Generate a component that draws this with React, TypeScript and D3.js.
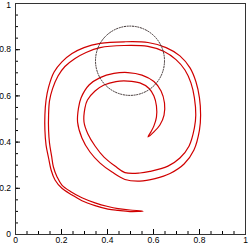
import React, { useEffect, useRef } from "react";
import * as d3 from "d3";

const width = 249;
const height = 244;
const margin = { left: 15, top: 3, right: 4, bottom: 10 };

// outer edge of the stretched interface, from the tail tip to the hook tip
const outerX = [0.557, 0.5, 0.448, 0.404, 0.348, 0.291, 0.248, 0.204, 0.174, 0.157, 0.146, 0.135, 0.13, 0.13, 0.135, 0.146, 0.17, 0.204, 0.248, 0.3, 0.37, 0.474, 0.578, 0.657, 0.717, 0.761, 0.787, 0.802, 0.807, 0.802, 0.778, 0.735, 0.674, 0.609, 0.543, 0.478, 0.422, 0.37, 0.326, 0.291, 0.272, 0.276, 0.287, 0.322, 0.37, 0.43, 0.491, 0.552, 0.604, 0.635, 0.65, 0.648, 0.63, 0.604, 0.578];
const outerY = [0.099, 0.097, 0.102, 0.108, 0.123, 0.144, 0.169, 0.198, 0.234, 0.277, 0.329, 0.385, 0.45, 0.515, 0.58, 0.636, 0.701, 0.745, 0.781, 0.807, 0.825, 0.832, 0.829, 0.807, 0.771, 0.719, 0.658, 0.589, 0.515, 0.45, 0.364, 0.303, 0.262, 0.24, 0.229, 0.236, 0.268, 0.307, 0.355, 0.416, 0.485, 0.545, 0.589, 0.645, 0.677, 0.695, 0.699, 0.688, 0.66, 0.619, 0.567, 0.515, 0.472, 0.442, 0.42];

// inner edge, same direction, without the two tips
const innerX = [0.5, 0.448, 0.404, 0.348, 0.291, 0.243, 0.204, 0.183, 0.167, 0.159, 0.15, 0.146, 0.146, 0.15, 0.163, 0.187, 0.217, 0.261, 0.309, 0.37, 0.474, 0.578, 0.648, 0.7, 0.739, 0.765, 0.78, 0.786, 0.78, 0.757, 0.717, 0.665, 0.587, 0.543, 0.478, 0.435, 0.387, 0.348, 0.317, 0.3, 0.304, 0.315, 0.348, 0.387, 0.439, 0.491, 0.543, 0.583, 0.604, 0.615, 0.615, 0.604, 0.591];
const innerY = [0.104, 0.11, 0.119, 0.135, 0.157, 0.183, 0.212, 0.247, 0.29, 0.338, 0.394, 0.45, 0.515, 0.576, 0.628, 0.684, 0.725, 0.76, 0.786, 0.807, 0.816, 0.812, 0.79, 0.755, 0.71, 0.654, 0.589, 0.515, 0.459, 0.381, 0.329, 0.294, 0.271, 0.264, 0.266, 0.294, 0.333, 0.381, 0.433, 0.485, 0.545, 0.58, 0.619, 0.645, 0.66, 0.662, 0.654, 0.63, 0.597, 0.554, 0.506, 0.468, 0.442];

// initial circle
const circleCenter = [0.5, 0.75];
const circleRadius = 0.15;

const majorTicks = [0, 0.2, 0.4, 0.6, 0.8, 1];
const minorTicks = d3.range(0, 21).map(i => i * 0.05);

const x = d3.scaleLinear().domain([0, 1]).range([margin.left, width - margin.right]);
const y = d3.scaleLinear().domain([0, 1]).range([height - margin.bottom, margin.top]);

export default function App() {
  const xAxisRef = useRef<SVGGElement>(null);
  const yAxisRef = useRef<SVGGElement>(null);
  const xMinorRef = useRef<SVGGElement>(null);
  const yMinorRef = useRef<SVGGElement>(null);

  useEffect(() => {
    const fmt = d3.format("~g");
    const style = (g: any) => {
      g.select(".domain").remove();
      g.selectAll("line").attr("stroke", "#000");
      g.selectAll("text")
        .attr("fill", "#000")
        .style("font-family", "'Liberation Sans', Arial, sans-serif")
        .style("font-size", "8.5px");
    };
    d3.select(xAxisRef.current!)
      .call(d3.axisBottom(x).tickValues(majorTicks).tickSize(-5).tickPadding(3).tickFormat(fmt as any))
      .call(style);
    d3.select(yAxisRef.current!)
      .call(d3.axisLeft(y).tickValues(majorTicks).tickSize(-5).tickPadding(4).tickFormat(fmt as any))
      .call(style)
      // keep the top label inside the window
      .selectAll("text")
      .filter((d: any) => d === 1)
      .attr("dy", "0.55em");
    d3.select(xMinorRef.current!)
      .call(d3.axisBottom(x).tickValues(minorTicks).tickSize(-3).tickFormat(() => ""))
      .call(style);
    d3.select(yMinorRef.current!)
      .call(d3.axisLeft(y).tickValues(minorTicks).tickSize(-3).tickFormat(() => ""))
      .call(style);
  }, []);

  const pts: [number, number][] = [];
  outerX.forEach((v, i) => pts.push([x(v), y(outerY[i])]));
  for (let i = innerX.length - 1; i >= 0; i--) pts.push([x(innerX[i]), y(innerY[i])]);
  const path = d3.line().curve(d3.curveCatmullRomClosed.alpha(0.5))(pts) || "";

  return (
    <div style={{ position: "absolute", left: 0, top: 0 }}>
      <svg width={width} height={height} style={{ display: "block", background: "#fff" }}>
        <path d={path} fill="none" stroke="#d00000" strokeWidth={1.2} />
        <ellipse
          cx={x(circleCenter[0])}
          cy={y(circleCenter[1])}
          rx={x(circleRadius) - x(0)}
          ry={y(0) - y(circleRadius)}
          fill="none"
          stroke="#3a2e2e"
          strokeWidth={1}
          strokeDasharray="2 0.7"
        />
        <g ref={xMinorRef} transform={`translate(0,${y(0)})`} />
        <g ref={yMinorRef} transform={`translate(${x(0)},0)`} />
        <g ref={xAxisRef} transform={`translate(0,${y(0)})`} />
        <g ref={yAxisRef} transform={`translate(${x(0)},0)`} />
        <rect
          x={x(0)}
          y={y(1)}
          width={x(1) - x(0)}
          height={y(0) - y(1)}
          fill="none"
          stroke="#333"
          strokeWidth={1}
          shapeRendering="crispEdges"
        />
      </svg>
    </div>
  );
}
